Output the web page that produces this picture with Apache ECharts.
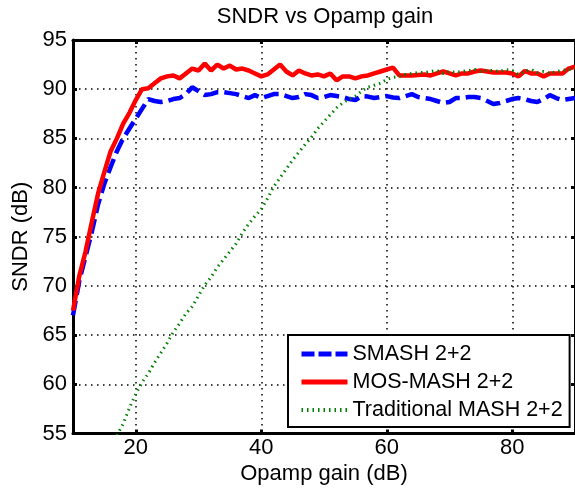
<!DOCTYPE html>
<html>
<head>
<meta charset="utf-8">
<script src="https://cdn.jsdelivr.net/npm/echarts@6/dist/echarts.min.js"></script>
<style>
html,body{margin:0;padding:0;background:#fff;}
#c{width:575px;height:491px;}
</style>
</head>
<body>
<div id="c"></div>
<script>
// Opamp gain (dB), x values
var gains = [10,11,12,13,14,15,16,17,18,19,20,21,22,23,24,25,26,27,28,29,30,31,32,33,34,35,36,37,38,39,40,41,42,43,44,45,46,47,48,49,50,51,52,53,54,55,56,57,58,59,60,61,62,63,64,65,66,67,68,69,70,71,72,73,74,75,76,77,78,79,80,81,82,83,84,85,86,87,88,89,90];

// SMASH 2+2 SNDR (dB)
var smash = [67.0,70.5,73.0,75.5,78.3,80.4,82.1,83.7,85.0,86.0,87.0,88.0,89.0,88.8,88.7,88.8,89.0,89.1,89.5,90.2,89.8,89.4,89.5,89.7,89.7,89.6,89.5,89.3,89.1,89.4,89.1,89.3,89.5,89.5,89.3,89.1,89.2,89.5,89.4,89.1,89.2,89.4,89.3,89.2,89.0,88.9,89.3,89.25,89.1,89.2,89.3,89.15,89.1,89.3,89.5,89.2,89.1,89.0,88.8,88.6,88.7,89.1,89.1,89.2,89.2,89.1,88.8,88.5,88.6,88.8,89.0,89.1,89.0,88.8,88.7,89.0,89.4,89.1,88.9,89.0,89.1];

// MOS-MASH 2+2 SNDR (dB)
var mosMash = [67.5,71.0,73.5,76.5,79.4,81.6,83.7,85.0,86.5,87.6,88.9,90.0,90.1,90.6,91.1,91.3,91.4,91.1,91.6,92.1,91.9,92.6,91.9,92.5,92.1,92.4,92.0,92.1,91.9,91.6,91.3,91.5,92.0,92.5,91.8,91.4,91.9,91.6,91.4,91.5,91.3,91.6,90.9,91.3,91.3,91.1,91.3,91.4,91.6,91.8,92.0,92.2,91.4,91.4,91.4,91.45,91.5,91.4,91.6,91.8,91.6,91.4,91.6,91.6,91.8,91.9,91.8,91.7,91.7,91.7,91.6,91.3,91.85,91.6,91.6,91.3,91.6,91.6,91.6,92.1,92.3];

// Traditional MASH 2+2 SNDR (dB); null where below the plotted range
var tradMash = [null,null,null,null,null,null,null,54.8,56.0,57.6,59.0,60.2,61.1,62.2,63.2,64.2,65.3,66.2,67.2,67.9,69.0,70.1,70.9,71.9,72.7,73.5,74.3,75.4,76.3,77.1,77.8,78.9,80.1,81.0,81.9,82.8,83.6,84.4,85.1,86.0,86.7,87.4,88.1,88.6,89.0,89.3,89.8,90.2,90.4,90.6,91.0,91.2,91.3,91.5,91.6,91.7,91.7,91.8,91.9,91.6,91.8,91.7,91.8,91.9,92.0,91.8,91.9,91.9,91.8,92.0,91.9,91.5,91.8,92.0,91.7,91.8,91.6,91.8,91.9,92.0,92.1];

var seriesNames = ['SMASH 2+2','MOS-MASH 2+2','Traditional MASH 2+2'];
var xTicks = [20,40,60,80];
var yTicks = [55,60,65,70,75,80,85,90,95];

function pairs(vals){
  var out = [];
  for (var i = 0; i < gains.length; i++) {
    if (vals[i] !== null) out.push([gains[i], vals[i]]);
  }
  return out;
}

var FONT = '"Liberation Sans", Arial, sans-serif';
var chart = echarts.init(document.getElementById('c'), null, {renderer:'canvas'});

var axisLine = {show:true, onZero:false, lineStyle:{color:'#000', width:3}};
var axisTick = {show:true, inside:true, length:4, lineStyle:{color:'#000', width:3}};
var splitLine = {show:true, lineStyle:{color:'#000', width:1.5, type:[1.5,4.5]}};

var option = {
  animation:false,
  backgroundColor:'#fff',
  title:{
    text:'SNDR vs Opamp gain',
    left:325, top:6, padding:0, textAlign:'center',
    textStyle:{fontFamily:FONT, fontSize:22, fontWeight:'normal', color:'#000'}
  },
  grid:{left:73, right:-2, top:40, bottom:57.5, containLabel:false},
  legend:{
    orient:'vertical', left:288, top:335,
    padding:[8,7,6,11], itemGap:6, itemWidth:46, itemHeight:20,
    backgroundColor:'#fff', borderColor:'#000', borderWidth:2, borderRadius:0,
    itemStyle:{opacity:0},
    textStyle:{fontFamily:FONT, fontSize:21.5, color:'#000'},
    data:[
      {name:seriesNames[0], lineStyle:{width:5, type:[13,4], color:'#0000ff'}},
      {name:seriesNames[1], lineStyle:{width:5, type:'solid', color:'#ff0000'}},
      {name:seriesNames[2], lineStyle:{width:4, type:[1.5,4], color:'#008000'}}
    ]
  },
  xAxis:[{
    type:'value', min:10, max:90, interval:10,
    name:'Opamp gain (dB)', nameLocation:'middle', nameGap:29,
    nameTextStyle:{fontFamily:FONT, fontSize:22, color:'#000'},
    axisLine:axisLine,
    axisTick:{show:true, inside:true, length:4, lineStyle:{color:'#000', width:3}, customValues:xTicks},
    axisLabel:{fontFamily:FONT, fontSize:22, color:'#000', margin:3, customValues:xTicks},
    splitLine:splitLine
  },{
    type:'value', position:'top', min:10, max:90, interval:10,
    axisLine:axisLine,
    axisTick:{show:true, inside:true, length:4, lineStyle:{color:'#000', width:3}, customValues:xTicks},
    axisLabel:{show:false},
    splitLine:{show:false}
  }],
  yAxis:[{
    type:'value', min:55, max:95, interval:5,
    name:'SNDR (dB)', nameLocation:'middle', nameGap:38,
    nameTextStyle:{fontFamily:FONT, fontSize:22, color:'#000'},
    axisLine:axisLine, axisTick:axisTick,
    axisLabel:{fontFamily:FONT, fontSize:22, color:'#000', margin:6, customValues:yTicks},
    splitLine:splitLine
  },{
    type:'value', position:'right', min:55, max:95, interval:5,
    axisLine:axisLine, axisTick:axisTick,
    axisLabel:{show:false},
    splitLine:{show:false}
  }],
  series:[{
    name:seriesNames[0], type:'line', xAxisIndex:0, yAxisIndex:0,
    data:pairs(smash), symbol:'none', showSymbol:false, clip:true,
    lineStyle:{color:'#0000ff', width:4.5, type:[15,6]},
    itemStyle:{color:'#0000ff'}, z:3
  },{
    name:seriesNames[1], type:'line', xAxisIndex:0, yAxisIndex:0,
    data:pairs(mosMash), symbol:'none', showSymbol:false, clip:true,
    lineStyle:{color:'#ff0000', width:4.5, type:'solid'},
    itemStyle:{color:'#ff0000'}, z:4
  },{
    name:seriesNames[2], type:'line', xAxisIndex:0, yAxisIndex:0,
    data:pairs(tradMash), symbol:'none', showSymbol:false, clip:true,
    lineStyle:{color:'#008000', width:3, type:[1.5,4]},
    itemStyle:{color:'#008000'}, z:5
  }]
};
chart.setOption(option);
</script>
</body>
</html>
